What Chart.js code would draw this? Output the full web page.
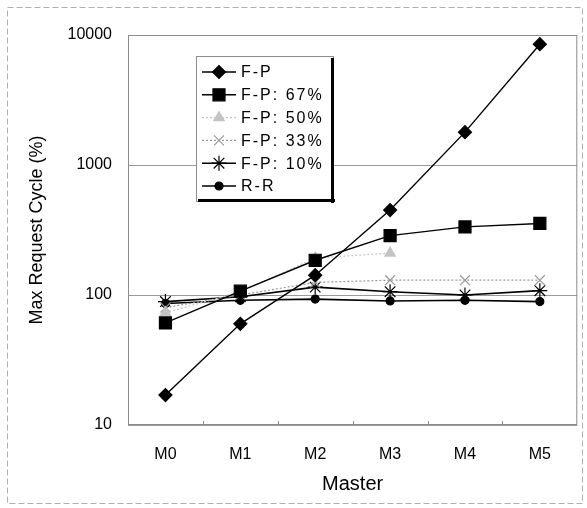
<!DOCTYPE html>
<html>
<head>
    <title>Max Request Cycle</title>
    <script src="https://cdn.jsdelivr.net/npm/chart.js"></script>
    <style>
        body {
            margin: 0;
            background-color: #ffffff;
        }
        canvas {
            display: block;
        }
    </style>
</head>
<body>
    <canvas id="cycleChart" width="587" height="508"></canvas>

    <script>
        // Dane
        const categories = ['M0', 'M1', 'M2', 'M3', 'M4', 'M5'];
        const yTicks = [10, 100, 1000, 10000];
        const fp = [17, 60, 142, 450, 1790, 8500];
        const fp67 = [61, 107, 185, 286, 334, 355];
        const fp50 = [73, 106, 192, 210, null, null];
        const fp33 = [80, 100, 125, 130, 130, 130];
        const fp10 = [89, 97, 115, 106, 100, 108];
        const rr = [86, 91, 93, 90, 91, 89];

        const FONT = 'Liberation Sans, Arial, sans-serif';

        function series(label, data, color, style, radius, dash, width) {
            return {
                label: label,
                data: data,
                borderColor: color,
                backgroundColor: color,
                pointBackgroundColor: color,
                pointBorderColor: color,
                pointStyle: style,
                pointRadius: radius,
                pointBorderWidth: 1.2,
                borderWidth: width,
                borderDash: dash,
                tension: 0,
                fill: false
            };
        }

        const datasets = [
            series('F-P', fp, '#000000', 'rectRot', 6.5, [], 1.4),
            series('F-P: 67%', fp67, '#000000', 'rect', 8.5, [], 1.4),
            series('F-P: 50%', fp50, '#c4c4c4', 'triangle', 6, [2, 2], 1.2),
            series('F-P: 33%', fp33, '#9a9a9a', 'crossRot', 7, [2, 2], 1.2),
            series('F-P: 10%', fp10, '#000000', 'star', 7.5, [], 1.6),
            series('R-R', rr, '#000000', 'circle', 4, [], 1.6)
        ];

        // Ramki: strona, obszar wykresu i legenda w środku
        const framePlugin = {
            id: 'frames',
            beforeDraw(chart) {
                const ctx = chart.ctx;
                ctx.save();
                ctx.fillStyle = '#ffffff';
                ctx.fillRect(0, 0, chart.width, chart.height);
                ctx.strokeStyle = '#b0b0b0';
                ctx.lineWidth = 1;
                ctx.setLineDash([6, 3]);
                ctx.strokeRect(7.5, 7.5, 575, 496);
                ctx.restore();
            },
            beforeDatasetsDraw(chart) {
                const a = chart.chartArea;
                const ctx = chart.ctx;
                ctx.save();
                ctx.strokeStyle = '#8c8c8c';
                ctx.lineWidth = 1;
                ctx.strokeRect(a.left + 0.5, a.top + 0.5, a.right - a.left - 1, a.bottom - a.top - 1);
                // drobne znaczniki na dolnej osi, między kategoriami
                const xs = chart.scales.x;
                for (let i = 1; i < categories.length; i++) {
                    const bx = Math.round((xs.getPixelForValue(i - 1) + xs.getPixelForValue(i)) / 2) + 0.5;
                    ctx.beginPath();
                    ctx.moveTo(bx, a.bottom);
                    ctx.lineTo(bx, a.bottom - 4);
                    ctx.stroke();
                }
                ctx.restore();
            },
            afterDraw(chart) {
                const ctx = chart.ctx;
                const x0 = 196, y0 = 56, w = 137, h = 145;
                ctx.save();
                ctx.fillStyle = '#ffffff';
                ctx.fillRect(x0, y0, w, h);
                ctx.strokeStyle = '#8c8c8c';
                ctx.lineWidth = 1;
                ctx.strokeRect(x0 + 0.5, y0 + 0.5, w, h);
                ctx.fillStyle = '#000000';
                ctx.fillRect(x0 + w - 2, y0 + 2, 3, h);
                ctx.fillRect(x0 + 2, y0 + h - 2, w, 3);

                ctx.font = '16px ' + FONT;
                ctx.textBaseline = 'middle';
                ctx.letterSpacing = '2px';
                chart.data.datasets.forEach((ds, i) => {
                    const y = 72 + i * 22.8;
                    ctx.strokeStyle = ds.borderColor;
                    ctx.fillStyle = ds.borderColor;
                    ctx.lineWidth = ds.borderWidth;
                    ctx.setLineDash(ds.borderDash);
                    ctx.beginPath();
                    ctx.moveTo(202, y);
                    ctx.lineTo(236, y);
                    ctx.stroke();
                    ctx.setLineDash([]);
                    ctx.lineWidth = ds.pointBorderWidth;
                    Chart.helpers.drawPoint(ctx, {
                        pointStyle: ds.pointStyle,
                        radius: ds.pointRadius,
                        rotation: 0,
                        borderWidth: ds.pointBorderWidth
                    }, 219, y);
                    ctx.fillStyle = '#000000';
                    ctx.fillText(ds.label, 241, y + 1);
                });
                ctx.restore();
            }
        };

        const ctx = document.getElementById('cycleChart').getContext('2d');
        const chart = new Chart(ctx, {
            type: 'line',
            data: {
                labels: categories,
                datasets: datasets
            },
            options: {
                responsive: false,
                animation: false,
                spanGaps: false,
                layout: {
                    padding: { left: 10, right: 9, top: 35, bottom: 0 }
                },
                scales: {
                    x: {
                        offset: true,
                        grid: { display: false },
                        border: { display: false },
                        ticks: {
                            color: '#000000',
                            padding: 12,
                            font: { family: FONT, size: 16 }
                        },
                        title: {
                            display: true,
                            text: 'Master',
                            color: '#000000',
                            padding: { top: 0, bottom: 12 },
                            font: { family: FONT, size: 20 }
                        },
                        afterFit(scale) {
                            scale.height = 83;
                        }
                    },
                    y: {
                        type: 'logarithmic',
                        min: 10,
                        max: 10000,
                        border: { display: false },
                        grid: {
                            color: '#9a9a9a',
                            lineWidth: 1,
                            drawTicks: false
                        },
                        afterBuildTicks(scale) {
                            scale.ticks = yTicks.map(v => ({ value: v }));
                        },
                        ticks: {
                            color: '#000000',
                            padding: 16,
                            font: { family: FONT, size: 16 },
                            callback: (v) => String(v)
                        },
                        title: {
                            display: true,
                            text: 'Max Request Cycle (%)',
                            color: '#000000',
                            padding: { top: 16, bottom: 0 },
                            font: { family: FONT, size: 18 }
                        },
                        afterFit(scale) {
                            scale.width = 118;
                        }
                    }
                },
                plugins: {
                    legend: { display: false },
                    tooltip: { enabled: false }
                }
            },
            plugins: [framePlugin]
        });
    </script>
</body>
</html>
